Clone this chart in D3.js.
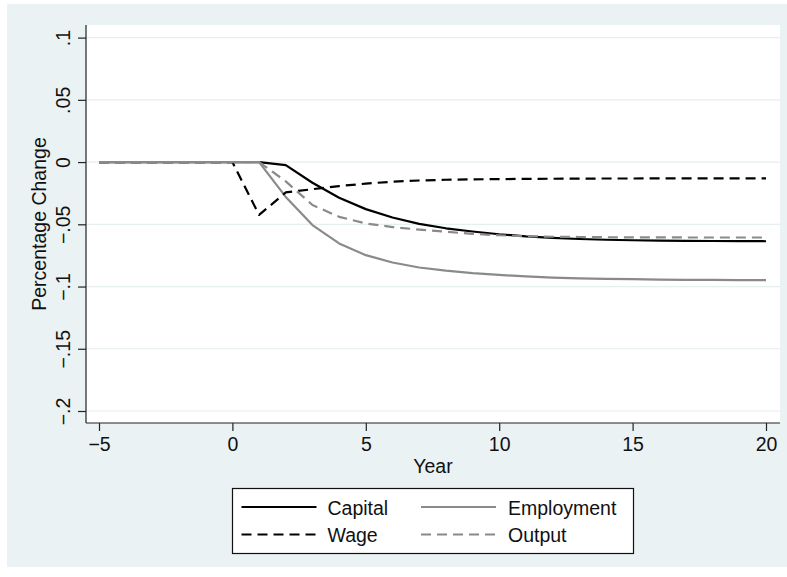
<!DOCTYPE html>
<html>
<head>
<meta charset="utf-8">
<script src="https://cdn.jsdelivr.net/npm/d3@7"></script>
<style>
html,body{margin:0;padding:0;background:#fff;}
svg{display:block;font-family:"Liberation Sans",Arial,Helvetica,sans-serif;}
</style>
</head>
<body>
<svg id="chart" width="787" height="577"></svg>
<script>
const years = [-5,-4,-3,-2,-1,0,1,2,3,4,5,6,7,8,9,10,11,12,13,14,15,16,17,18,19,20];
const capital = [0,0,0,0,0,0,0,-0.0024,-0.0166,-0.0287,-0.0378,-0.0445,-0.0497,-0.0532,-0.0558,-0.0580,-0.0597,-0.0609,-0.0618,-0.0624,-0.0628,-0.0631,-0.0633,-0.0634,-0.0635,-0.0636];
const employment = [0,0,0,0,0,0,0,-0.0280,-0.0506,-0.0654,-0.0748,-0.0807,-0.0847,-0.0872,-0.0892,-0.0907,-0.0919,-0.0928,-0.0934,-0.0938,-0.0941,-0.0944,-0.0946,-0.0947,-0.0948,-0.0949];
const wage = [0,0,0,0,0,0,-0.0425,-0.0244,-0.0218,-0.0193,-0.0173,-0.0158,-0.0148,-0.0142,-0.0139,-0.0137,-0.0135,-0.0134,-0.0133,-0.0132,-0.0132,-0.0131,-0.0131,-0.0131,-0.0131,-0.0131];
const output = [0,0,0,0,0,0,0,-0.0155,-0.0345,-0.0440,-0.0493,-0.0522,-0.0543,-0.0560,-0.0577,-0.0588,-0.0596,-0.0600,-0.0602,-0.0604,-0.0605,-0.0605,-0.0606,-0.0606,-0.0606,-0.0606];
const xTicks = [-5,0,5,10,15,20];
const yTicks = [0.1,0.05,0,-0.05,-0.1,-0.15,-0.2];
const yTickLabels = [".1",".05","0","\u2212.05","\u2212.1","\u2212.15","\u2212.2"];
const xTickLabels = ["\u22125","0","5","10","15","20"];
const seriesNames = ["Capital","Employment","Wage","Output"];

const series = [
  {name:"Capital", values:capital, color:"#000000", dash:null, width:2.2},
  {name:"Employment", values:employment, color:"#8a8a8a", dash:null, width:2.2},
  {name:"Wage", values:wage, color:"#000000", dash:"10,6", width:2.2},
  {name:"Output", values:output, color:"#8a8a8a", dash:"10,6", width:2.2}
];

const svg = d3.select("#chart");
const FS = 19.5;

// graph region
svg.append("rect").attr("x",7).attr("y",4).attr("width",780).attr("height",563).attr("fill","#eaf2f3");

const plot = {left:86, right:780, top:25, bottom:423};
svg.append("rect").attr("x",plot.left).attr("y",plot.top)
  .attr("width",plot.right-plot.left).attr("height",plot.bottom-plot.top).attr("fill","#ffffff");

const x = d3.scaleLinear().domain([-5,20]).range([99,766]);
const y = d3.scaleLinear().domain([-0.2,0.1]).range([411,37.6]);

// gridlines
svg.append("g").selectAll("line").data(yTicks).join("line")
  .attr("x1",plot.left).attr("x2",plot.right)
  .attr("y1",d=>y(d)).attr("y2",d=>y(d))
  .attr("stroke","#e6eef0").attr("stroke-width",1.2);

// lines
const lineGen = vals => d3.line().x((d,i)=>x(years[i])).y(d=>y(d))(vals);
svg.append("g").selectAll("path").data(series).join("path")
  .attr("d",d=>lineGen(d.values))
  .attr("fill","none")
  .attr("stroke",d=>d.color)
  .attr("stroke-width",d=>d.width)
  .attr("stroke-dasharray",d=>d.dash)
  .attr("stroke-linejoin","round");

// y axis
const yAxis = d3.axisLeft(y).tickValues(yTicks).tickSize(8).tickFormat((d,i)=>yTickLabels[i]);
const gy = svg.append("g").attr("transform",`translate(${plot.left},0)`).call(yAxis);
gy.select(".domain").attr("d",`M0,${plot.top}V${plot.bottom}`).attr("stroke","#222").attr("stroke-width",1.2);
gy.selectAll(".tick line").attr("stroke","#222").attr("stroke-width",1.2);
gy.selectAll(".tick text")
  .attr("font-size",FS).attr("fill","#111")
  .attr("font-family","'Liberation Sans',Arial,sans-serif")
  .attr("x",0).attr("dy",0)
  .attr("text-anchor","middle")
  .attr("transform","translate(-16,0) rotate(-90)");

// x axis
const xAxis = d3.axisBottom(x).tickValues(xTicks).tickSize(8).tickFormat((d,i)=>xTickLabels[i]);
const gx = svg.append("g").attr("transform",`translate(0,${plot.bottom})`).call(xAxis);
gx.select(".domain").attr("d",`M${plot.left},0H${plot.right}`).attr("stroke","#222").attr("stroke-width",1.2);
gx.selectAll(".tick line").attr("stroke","#222").attr("stroke-width",1.2);
gx.selectAll(".tick text")
  .attr("font-size",FS).attr("fill","#111")
  .attr("font-family","'Liberation Sans',Arial,sans-serif")
  .attr("y",28).attr("dy",0);

// axis titles
svg.append("text").attr("x",433).attr("y",473).attr("text-anchor","middle")
  .attr("font-size",FS).attr("fill","#111").text("Year");
svg.append("text").attr("transform","translate(46,224) rotate(-90)").attr("text-anchor","middle")
  .attr("font-size",FS).attr("fill","#111").text("Percentage Change");

// legend
const lg = svg.append("g");
lg.append("rect").attr("x",232.5).attr("y",488.5).attr("width",401).attr("height",65)
  .attr("fill","#ffffff").attr("stroke","#111").attr("stroke-width",1.2);
const legendPos = [
  {lx:241.5, ly:507, tx:327.5},
  {lx:421, ly:507, tx:508},
  {lx:241.5, ly:534.5, tx:327.5},
  {lx:421, ly:534.5, tx:508}
];
series.forEach((s,i)=>{
  const p = legendPos[i];
  lg.append("line").attr("x1",p.lx).attr("x2",p.lx+75).attr("y1",p.ly).attr("y2",p.ly)
    .attr("stroke",s.color).attr("stroke-width",s.width).attr("stroke-dasharray",s.dash);
  lg.append("text").attr("x",p.tx).attr("y",p.ly+7.5).attr("font-size",FS).attr("fill","#111").text(seriesNames[i]);
});
</script>
</body>
</html>
